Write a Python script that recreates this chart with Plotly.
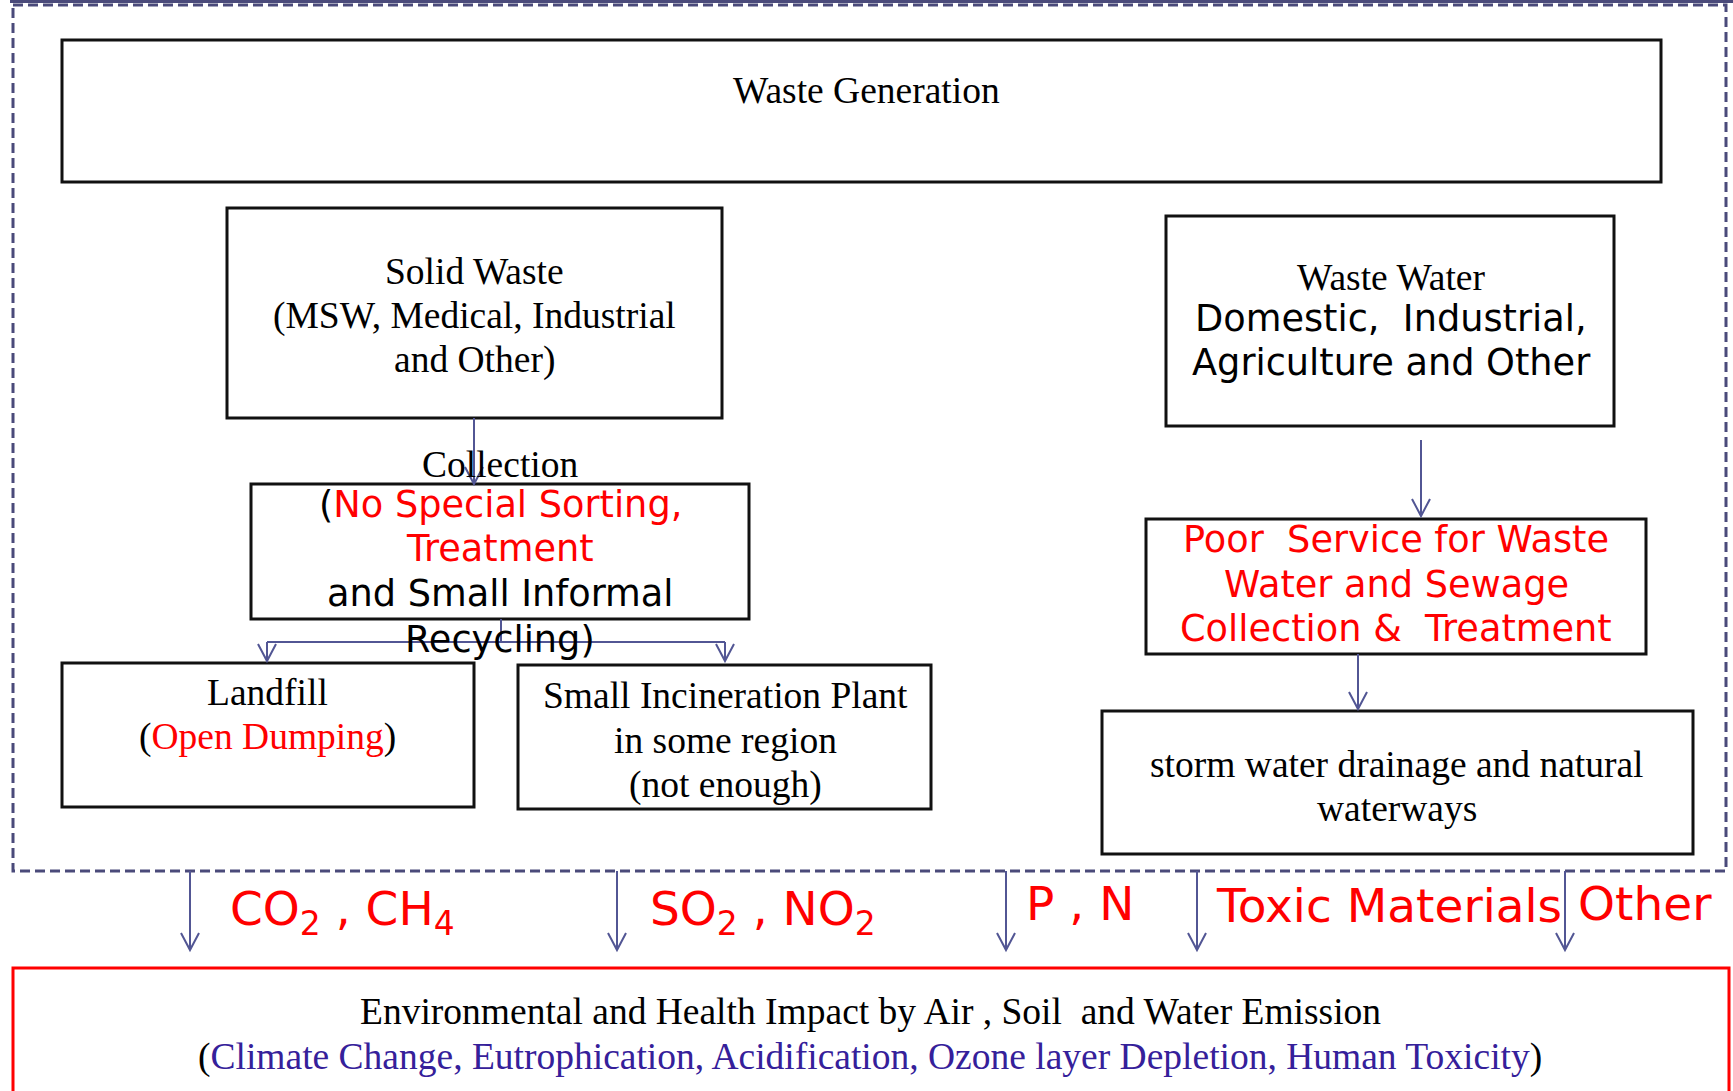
import plotly.graph_objects as go

W, H = 1733, 1091

SERIF = "Liberation Serif"
SANS = "DejaVu Sans"
RED = "#ff0000"
BLUE = "#35209a"
NAVY = "#4a4a7a"
ARROW = "#525694"
BLACK = "#111111"

# ---- diagram content ----
box_names = ["generation", "solid", "water", "collection", "landfill",
             "incineration", "poor", "storm"]
box_x0 = [62, 227, 1166, 251, 62, 518, 1146, 1102]
box_x1 = [1661, 722, 1614, 749, 474, 931, 1646, 1693]
box_y0 = [40, 208, 216, 484, 663, 665, 519, 711]
box_y1 = [182, 418, 426, 619, 807, 809, 654, 854]

r = lambda s: f"<span style='color:{RED}'>{s}</span>"
b = lambda s: f"<span style='color:{BLUE}'>{s}</span>"

text_lines = [
    "Waste Generation",
    "Solid Waste", "(MSW, Medical, Industrial", "and Other)",
    "Waste Water",
    "Domestic,  Industrial,", "Agriculture and Other",
    "Collection",
    "(" + r("No Special Sorting,"), r("Treatment"), "and Small Informal", "Recycling)",
    "Landfill", "(" + r("Open Dumping") + ")",
    "Small Incineration Plant", "in some region", "(not enough)",
    r("Poor  Service for Waste"), r("Water and Sewage"), r("Collection &  Treatment"),
    "storm water drainage and natural", "waterways",
    "Environmental and Health Impact by Air , Soil  and Water Emission",
    "(" + b("Climate Change, Eutrophication, Acidification, Ozone layer Depletion, Human Toxicity") + ")",
]
text_x = [866, 474, 474, 474, 1391, 1391, 1391, 500, 500, 500, 500, 500,
          267, 267, 725, 725, 725, 1396, 1396, 1396, 1397, 1397, 870, 870]
text_y = [90, 271, 316, 360, 277, 318, 362, 464, 504, 548, 593, 639,
          692, 737, 695, 740, 785, 539, 584, 628, 764, 808, 1011, 1057]
text_font = ["s", "s", "s", "s", "s", "d", "d", "s", "d", "d", "d", "d",
             "s", "s", "s", "s", "s", "d", "d", "d", "s", "s", "s", "s"]

emission_labels = ["CO<sub>2</sub> , CH<sub>4</sub>", "SO<sub>2</sub> , NO<sub>2</sub>",
                   "P , N", "Toxic Materials", "Other"]
emission_arrow_x = [190, 617, 1006, 1197, 1565]
emission_label_x = [228, 648, 1024, 1214, 1576]
emission_label_y = [912, 912, 903, 905, 903]

# flow arrows: (x, y_start, y_end)
flow_x = [474, 1421, 1358, 267, 725]
flow_y0 = [418, 440, 654, 642, 642]
flow_y1 = [484, 516, 709, 661, 661]

fig = go.Figure()
shapes = []

# top band and dashed outer frame
shapes.append(dict(type="line", x0=10, x1=W, y0=1.5, y1=1.5,
                   line=dict(color=NAVY, width=3)))
shapes.append(dict(type="rect", x0=13, x1=1726, y0=5, y1=871,
                   line=dict(color=NAVY, width=3, dash="10px,5px")))

for x0, x1, y0, y1 in zip(box_x0, box_x1, box_y0, box_y1):
    shapes.append(dict(type="rect", x0=x0, x1=x1, y0=y0, y1=y1,
                       line=dict(color=BLACK, width=3)))

# red impact box
shapes.append(dict(type="rect", x0=13, x1=1729, y0=968, y1=1100,
                   line=dict(color=RED, width=3)))

def arrow(x, y0, y1):
    shapes.append(dict(type="line", x0=x, x1=x, y0=y0, y1=y1,
                       line=dict(color=ARROW, width=2)))
    shapes.append(dict(type="path",
                       path=f"M {x-9},{y1-17} L {x},{y1} L {x+9},{y1-17}",
                       line=dict(color=ARROW, width=2)))

for x, y0, y1 in zip(flow_x, flow_y0, flow_y1):
    arrow(x, y0, y1)

# branch from collection box
shapes.append(dict(type="line", x0=501, x1=501, y0=619, y1=642,
                   line=dict(color=ARROW, width=2)))
shapes.append(dict(type="line", x0=267, x1=725, y0=642, y1=642,
                   line=dict(color=ARROW, width=2)))

for x in emission_arrow_x:
    arrow(x, 871, 950)

annotations = []
for t, x, y, f in zip(text_lines, text_x, text_y, text_font):
    annotations.append(dict(
        text=t, x=x, y=y, xref="x", yref="y", showarrow=False,
        xanchor="center", yanchor="middle",
        font=dict(family=SERIF if f == "s" else SANS,
                  size=37.5 if f == "s" else 36.7, color="black")))

for t, x, y in zip(emission_labels, emission_label_x, emission_label_y):
    annotations.append(dict(
        text=t, x=x, y=y, xref="x", yref="y", showarrow=False,
        xanchor="left", yanchor="middle",
        font=dict(family=SANS, size=47, color=RED)))

fig.update_layout(
    width=W, height=H, margin=dict(l=0, r=0, t=0, b=0),
    paper_bgcolor="white", plot_bgcolor="white",
    xaxis=dict(range=[0, W], visible=False, fixedrange=True),
    yaxis=dict(range=[H, 0], visible=False, fixedrange=True),
    shapes=shapes, annotations=annotations, showlegend=False,
)

fig.write_html("out.html", config={"displayModeBar": False},
               post_script="document.body.style.margin='0';document.body.style.overflow='hidden';")
